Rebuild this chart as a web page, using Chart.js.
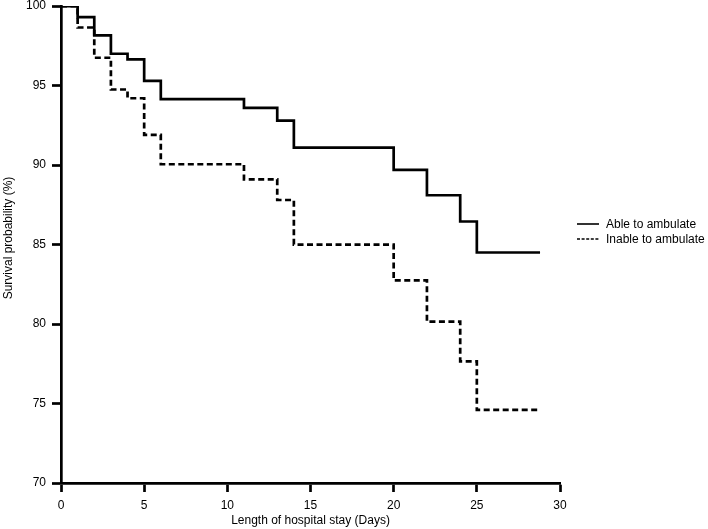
<!DOCTYPE html>
<html>
<head>
<meta charset="utf-8">
<script src="https://cdn.jsdelivr.net/npm/chart.js@4/dist/chart.umd.min.js"></script>
<style>
html,body{margin:0;padding:0;background:#fff;}
#wrap{width:708px;height:529px;position:relative;}
</style>
</head>
<body>
<div id="wrap"><canvas id="c"></canvas></div>
<script>
const days = [0, 1, 2, 3, 4, 5, 6, 11, 13, 14, 20, 22, 24, 25, 28.8];
const ableToAmbulate = [100, 99.3, 98.15, 97.0, 96.65, 95.3, 94.15, 93.6, 92.8, 91.1, 89.7, 88.1, 86.45, 84.5, 84.5];
const inableToAmbulate = [100, 98.65, 96.75, 94.75, 94.2, 91.9, 90.05, 89.1, 87.8, 85.0, 82.75, 80.15, 77.65, 74.6, 74.6];
const seriesLabels = ['Able to ambulate', 'Inable to ambulate'];
const xTicks = [0, 5, 10, 15, 20, 25, 30];
const yTicks = [70, 75, 80, 85, 90, 95, 100];
const xTitle = 'Length of hospital stay (Days)';
const yTitle = 'Survival probability (%)';

const FONT = 'Liberation Sans, Arial, Helvetica, sans-serif';

const legendPlugin = {
  id: 'customLegend',
  afterDraw(chart) {
    const ctx = chart.ctx;
    const items = chart.data.datasets;
    ctx.save();
    items.forEach((ds, i) => {
      const y = 224 + i * 15;
      ctx.beginPath();
      ctx.strokeStyle = '#000';
      ctx.lineWidth = 1.6;
      ctx.setLineDash(ds.borderDash && ds.borderDash.length ? [3, 1.6] : []);
      ctx.moveTo(577, y);
      ctx.lineTo(599, y);
      ctx.stroke();
      ctx.setLineDash([]);
      ctx.fillStyle = '#000';
      ctx.font = '12px ' + FONT;
      ctx.textBaseline = 'middle';
      ctx.textAlign = 'left';
      ctx.fillText(ds.label, 606, y + 0.5);
    });
    // y-axis title
    ctx.translate(9, 238);
    ctx.rotate(-Math.PI / 2);
    ctx.textAlign = 'center';
    ctx.textBaseline = 'middle';
    ctx.fillText(yTitle, 0, 0);
    ctx.restore();
  }
};

new Chart(document.getElementById('c'), {
  type: 'line',
  data: {
    datasets: [
      {
        label: seriesLabels[0],
        data: days.map((d, i) => ({x: d, y: ableToAmbulate[i]})),
        borderColor: '#000',
        borderWidth: 2.7,
        stepped: 'before',
        pointRadius: 0,
        fill: false
      },
      {
        label: seriesLabels[1],
        data: days.map((d, i) => ({x: d, y: inableToAmbulate[i]})),
        borderColor: '#000',
        borderWidth: 2.7,
        borderDash: [6, 3.5],
        stepped: 'before',
        pointRadius: 0,
        fill: false
      }
    ]
  },
  options: {
    responsive: true,
    maintainAspectRatio: false,
    animation: false,
    devicePixelRatio: 1,
    layout: {padding: {left: 0, right: 148, top: 0, bottom: 0}},
    plugins: {legend: {display: false}, tooltip: {enabled: false}},
    scales: {
      x: {
        type: 'linear',
        min: 0, max: 30,
        afterBuildTicks(s) { s.ticks = xTicks.map(v => ({value: v})); },
        afterFit(s) { s.height = 46; },
        ticks: {color: '#000', font: {family: FONT, size: 12}, padding: 6, maxRotation: 0},
        grid: {display: true, drawOnChartArea: false, drawTicks: true, tickLength: 9, tickWidth: 2.7, tickColor: '#000'},
        border: {display: true, color: '#000', width: 2.7},
        title: {display: true, text: xTitle, color: '#000', font: {family: FONT, size: 12}, padding: {top: 0, bottom: 1}}
      },
      y: {
        type: 'linear',
        min: 70, max: 100,
        afterBuildTicks(s) { s.ticks = yTicks.map(v => ({value: v})); },
        afterFit(s) { s.width = 61; },
        ticks: {color: '#000', font: {family: FONT, size: 12, lineHeight: 0.01}, padding: 6},
        grid: {display: true, drawOnChartArea: false, drawTicks: true, tickLength: 9, tickWidth: 2.7, tickColor: '#000'},
        border: {display: true, color: '#000', width: 2.7},
        title: {display: false}
      }
    }
  },
  plugins: [legendPlugin]
});
</script>
</body>
</html>
